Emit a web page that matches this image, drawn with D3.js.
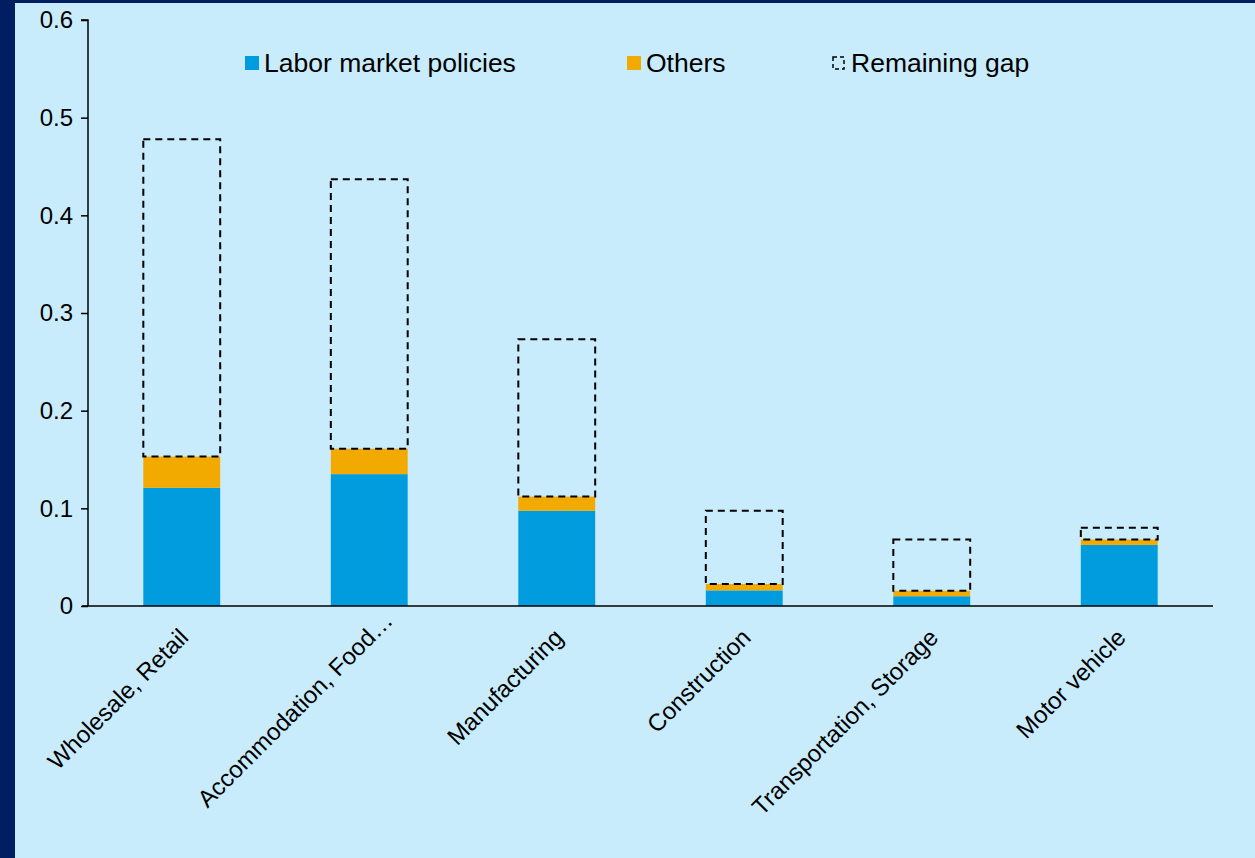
<!DOCTYPE html>
<html>
<head>
<meta charset="utf-8">
<script src="https://cdn.jsdelivr.net/npm/d3@7"></script>
<style>
  html, body { margin: 0; padding: 0; background: #001e60; }
  svg { display: block; }
  text { font-family: "Liberation Sans", Arial, sans-serif; fill: #000; }
</style>
</head>
<body>
<svg id="chart" width="1255" height="858"></svg>
<script>
const categories = ['Wholesale, Retail', 'Accommodation, Food\u2026', 'Manufacturing',
  'Construction', 'Transportation, Storage', 'Motor vehicle'];
const laborPolicies = [0.121, 0.135, 0.0975, 0.016, 0.010, 0.0625];
const others = [0.032, 0.026, 0.0145, 0.0065, 0.0055, 0.0055];
const remainingGap = [0.325, 0.276, 0.161, 0.075, 0.0525, 0.012];
const yTicks = [0, 0.1, 0.2, 0.3, 0.4, 0.5, 0.6];

const svg = d3.select('#chart');
const width = +svg.attr('width');
const height = +svg.attr('height');

// navy frame: left strip + thin top strip
svg.append('rect').attr('x', 15).attr('y', 3)
  .attr('width', width - 15).attr('height', height - 3)
  .attr('fill', '#c9ecfc');

const margin = {left: 88, right: 42, top: 20, bottom: 252};

const x = d3.scaleBand()
  .domain(categories)
  .range([margin.left, width - margin.right])
  .paddingInner(0.59)
  .paddingOuter(0.295);

const y = d3.scaleLinear()
  .domain([0, 0.6])
  .range([height - margin.bottom, margin.top]);

const rows = categories.map((c, i) => ({
  name: c,
  labor: laborPolicies[i],
  other: others[i],
  gap: remainingGap[i]
}));

const g = svg.append('g');

// blue part
g.selectAll('rect.labor').data(rows).enter().append('rect')
  .attr('class', 'labor')
  .attr('x', d => x(d.name))
  .attr('width', x.bandwidth())
  .attr('y', d => y(d.labor))
  .attr('height', d => y(0) - y(d.labor))
  .attr('fill', '#009cde');

// orange part
g.selectAll('rect.other').data(rows).enter().append('rect')
  .attr('class', 'other')
  .attr('x', d => x(d.name))
  .attr('width', x.bandwidth())
  .attr('y', d => y(d.labor + d.other))
  .attr('height', d => y(d.labor) - y(d.labor + d.other))
  .attr('fill', '#f3aa00');

// dashed outline for the gap
g.selectAll('rect.gap').data(rows).enter().append('rect')
  .attr('class', 'gap')
  .attr('x', d => x(d.name))
  .attr('width', x.bandwidth())
  .attr('y', d => y(d.labor + d.other + d.gap))
  .attr('height', d => y(d.labor + d.other) - y(d.labor + d.other + d.gap))
  .attr('fill', 'none')
  .attr('stroke', '#000')
  .attr('stroke-width', 2)
  .attr('stroke-dasharray', '7,5');

// y axis
const yAxis = svg.append('g')
  .attr('transform', `translate(${margin.left},0)`)
  .call(d3.axisLeft(y).tickValues(yTicks).tickSize(7).tickPadding(8)
    .tickFormat(d => d === 0 ? '0' : d3.format('.1f')(d)));
yAxis.select('.domain').attr('stroke', '#000').attr('stroke-width', 1.5)
  .attr('d', `M-7,${y(0.6)}H0V${y(0)}`);
yAxis.selectAll('.tick line').attr('stroke', '#000').attr('stroke-width', 1.5);
yAxis.selectAll('.tick text').attr('font-size', 24)
  .attr('font-family', '"Liberation Sans", Arial, sans-serif');

// x axis
const xAxis = svg.append('g')
  .attr('transform', `translate(0,${y(0)})`)
  .call(d3.axisBottom(x).tickSize(0).tickPadding(0));
xAxis.select('.domain').attr('stroke', '#000').attr('stroke-width', 1.5)
  .attr('d', `M${margin.left - 6},0H${width - margin.right}`);
xAxis.selectAll('.tick text')
  .attr('font-size', 24)
  .attr('font-family', '"Liberation Sans", Arial, sans-serif')
  .attr('text-anchor', 'end')
  .attr('dy', 0)
  .attr('y', 0)
  // truncated labels hang a bit further out
  .attr('dx', d => d.endsWith('\u2026') ? 24 : 0)
  .attr('transform', 'translate(8,33) rotate(-45)');

// legend
const legend = [
  {label: 'Labor market policies', type: 'fill', color: '#009cde', x: 245},
  {label: 'Others', type: 'fill', color: '#f3aa00', x: 627},
  {label: 'Remaining gap', type: 'dash', color: 'none', x: 832}
];
const lg = svg.append('g').attr('transform', 'translate(0,63)');
legend.forEach(l => {
  if (l.type === 'fill') {
    lg.append('rect').attr('x', l.x).attr('y', -7).attr('width', 14).attr('height', 14)
      .attr('fill', l.color);
  } else {
    lg.append('rect').attr('x', l.x + 1).attr('y', -6).attr('width', 11).attr('height', 12)
      .attr('fill', 'none').attr('stroke', '#000').attr('stroke-width', 1.5)
      .attr('stroke-dasharray', '4,3');
  }
  lg.append('text').attr('x', l.x + 19).attr('y', 9)
    .attr('font-size', 26.5).text(l.label);
});
</script>
</body>
</html>
